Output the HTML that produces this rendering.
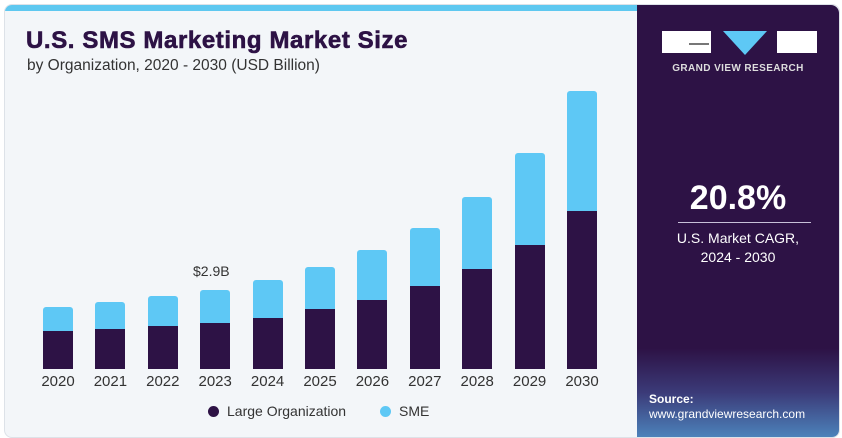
<!DOCTYPE html>
<html><head><style>
body{margin:0;width:842px;height:438px;background:#fff;position:relative;overflow:hidden;font-family:"Liberation Sans",sans-serif}
.card{position:absolute;left:4px;top:4px;width:834px;height:432px;background:#f3f6f9;border-radius:8px;border:1px solid #dde2e8;overflow:hidden}
.topbar{position:absolute;left:0;top:0;width:640px;height:6px;background:#5ec8f0}
.panel{position:absolute;left:632px;top:0;width:202px;height:440px;background:linear-gradient(180deg,#2d1245 0%,#2d1245 78%,#3b3a78 88%,#4f8fc6 100%);border-top-right-radius:8px}
.t{position:absolute;white-space:nowrap}
.bar{position:absolute;width:30px}
.lo{background:#2d1245}.sm{background:#5ec8f5;border-radius:3px 3px 0 0}
.yr{position:absolute;top:373px;font-size:15px;color:#333;width:52px;text-align:center}
</style></head><body>
<div class="card">
<div class="topbar"></div>
<div class="t" style="left:21px;top:22px;font-size:24px;font-weight:bold;color:#2d1245;letter-spacing:0.6px;-webkit-text-stroke:0.6px #2d1245">U.S. SMS Marketing Market Size</div>
<div class="t" style="left:22px;top:52px;font-size:15.5px;color:#333">by Organization, 2020 - 2030 (USD Billion)</div>
<div class="panel">
  <div style="position:absolute;left:25px;top:26px;width:49px;height:22px;background:#fff"></div>
  <div style="position:absolute;left:52px;top:38px;width:20px;height:2px;background:#777"></div>
  <div style="position:absolute;left:86px;top:26px;width:0;height:0;border-left:22px solid transparent;border-right:22px solid transparent;border-top:24px solid #5ec8f5"></div>
  <div style="position:absolute;left:140px;top:26px;width:40px;height:22px;background:#fff"></div>
  <div class="t" style="left:0;width:202px;text-align:center;top:58px;font-size:10px;font-weight:bold;color:#ddd;letter-spacing:0.4px">GRAND VIEW RESEARCH</div>
  <div class="t" style="left:0;width:202px;text-align:center;top:174px;font-size:34px;font-weight:bold;color:#fff">20.8%</div>
  <div style="position:absolute;left:41px;top:217px;width:133px;height:1px;background:#c8c0d8"></div>
  <div class="t" style="left:0;width:202px;text-align:center;top:224px;font-size:14px;color:#fff;line-height:19px">U.S. Market CAGR,<br>2024 - 2030</div>
  <div class="t" style="left:12px;top:387px;font-size:12px;font-weight:bold;color:#fff">Source:</div>
  <div class="t" style="left:12px;top:402px;font-size:12px;color:#fff">www.grandviewresearch.com</div>
</div>
</div>
<div id="bars"></div>
<div class="t" style="left:193px;top:263px;font-size:14px;color:#333">$2.9B</div>
<div style="position:absolute;left:208px;top:406px;width:11px;height:11px;border-radius:50%;background:#2d1245"></div>
<div class="t" style="left:227px;top:403px;font-size:14px;color:#333">Large Organization</div>
<div style="position:absolute;left:380px;top:406px;width:11px;height:11px;border-radius:50%;background:#5ec8f5"></div>
<div class="t" style="left:399px;top:403px;font-size:14px;color:#333">SME</div>
<script>
var d=[[307,331],[302,329],[296,326],[290,323],[280,318],[267,309],[250,300],[228,286],[197,269],[153,245],[91,211]];
var h='';
d.forEach(function(v,i){var x=43+i*52.4;
h+='<div class="bar sm" style="left:'+x+'px;top:'+v[0]+'px;height:'+(v[1]-v[0])+'px"></div>';
h+='<div class="bar lo" style="left:'+x+'px;top:'+v[1]+'px;height:'+(369-v[1])+'px"></div>';
h+='<div class="yr" style="left:'+(x-11)+'px">'+(2020+i)+'</div>';});
document.getElementById('bars').innerHTML=h;
</script>
</body></html>
